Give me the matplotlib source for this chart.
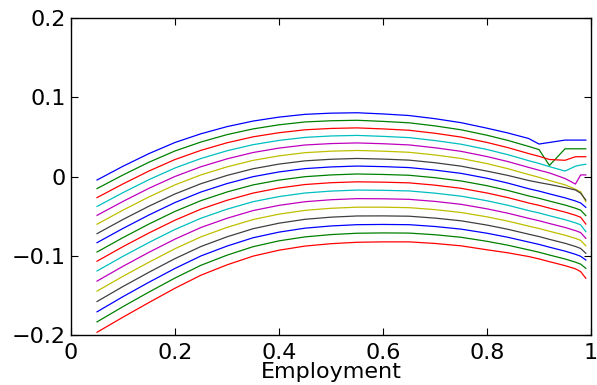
import matplotlib
matplotlib.use("Agg")
import matplotlib.pyplot as plt

plt.rcParams['font.family'] = ['DejaVu Sans']

# employment grid (x) shared by all curves
employment = [0.05, 0.10, 0.15, 0.20, 0.25, 0.30, 0.35, 0.40, 0.45, 0.50, 0.55, 0.60,
              0.65, 0.70, 0.75, 0.80, 0.84, 0.88, 0.90, 0.92, 0.95, 0.97, 0.98, 0.99]

# curves, top to bottom
line_01 = [-0.0044, 0.0130, 0.0290, 0.0430, 0.0540, 0.0630, 0.0700, 0.0750, 0.0785, 0.0800, 0.0805, 0.0790,
           0.0770, 0.0730, 0.0680, 0.0610, 0.0550, 0.0480, 0.0410, 0.0430, 0.0460, 0.0460, 0.0460, 0.0460]
line_02 = [-0.0152, 0.0020, 0.0181, 0.0323, 0.0436, 0.0529, 0.0601, 0.0653, 0.0689, 0.0704, 0.0710, 0.0696,
           0.0678, 0.0639, 0.0590, 0.0521, 0.0456, 0.0380, 0.0340, 0.0140, 0.0350, 0.0350, 0.0350, 0.0350]
line_03 = [-0.0266, -0.0093, 0.0070, 0.0215, 0.0331, 0.0426, 0.0501, 0.0553, 0.0590, 0.0607, 0.0614, 0.0601,
           0.0584, 0.0546, 0.0498, 0.0430, 0.0365, 0.0290, 0.0255, 0.0215, 0.0205, 0.0250, 0.0250, 0.0250]
line_04 = [-0.0378, -0.0203, -0.0039, 0.0108, 0.0228, 0.0325, 0.0402, 0.0456, 0.0494, 0.0512, 0.0519, 0.0507,
           0.0491, 0.0454, 0.0408, 0.0341, 0.0276, 0.0200, 0.0165, 0.0125, 0.0069, 0.0130, 0.0145, 0.0155]
line_05 = [-0.0490, -0.0314, -0.0148, 0.0001, 0.0124, 0.0223, 0.0303, 0.0359, 0.0398, 0.0416, 0.0424, 0.0414,
           0.0399, 0.0363, 0.0318, 0.0252, 0.0189, 0.0115, 0.0080, 0.0045, -0.0025, -0.0095, 0.0020, 0.0020]
line_06 = [-0.0602, -0.0424, -0.0257, -0.0105, 0.0021, 0.0122, 0.0204, 0.0261, 0.0301, 0.0320, 0.0329, 0.0320,
           0.0306, 0.0272, 0.0228, 0.0163, 0.0099, 0.0025, -0.0010, -0.0050, -0.0105, -0.0160, -0.0192, -0.0318]
line_07 = [-0.0721, -0.0542, -0.0374, -0.0220, -0.0090, 0.0014, 0.0098, 0.0157, 0.0198, 0.0218, 0.0228, 0.0220,
           0.0207, 0.0174, 0.0131, 0.0068, 0.0014, -0.0050, -0.0076, -0.0100, -0.0140, -0.0170, -0.0210, -0.0297]
line_08 = [-0.0835, -0.0655, -0.0485, -0.0328, -0.0195, -0.0089, -0.0002, 0.0058, 0.0100, 0.0121, 0.0132, 0.0125,
           0.0113, 0.0081, 0.0040, -0.0022, -0.0083, -0.0154, -0.0184, -0.0219, -0.0269, -0.0309, -0.0334, -0.0389]
line_09 = [-0.0953, -0.0771, -0.0599, -0.0440, -0.0304, -0.0195, -0.0106, -0.0045, -0.0002, 0.0020, 0.0032, 0.0026,
           0.0016, -0.0015, -0.0056, -0.0116, -0.0176, -0.0245, -0.0275, -0.0310, -0.0360, -0.0400, -0.0425, -0.0494]
line_10 = [-0.1069, -0.0885, -0.0712, -0.0551, -0.0411, -0.0300, -0.0209, -0.0145, -0.0101, -0.0078, -0.0067, -0.0071,
           -0.0080, -0.0109, -0.0149, -0.0208, -0.0266, -0.0334, -0.0364, -0.0399, -0.0449, -0.0489, -0.0514, -0.0600]
line_11 = [-0.1192, -0.1007, -0.0832, -0.0668, -0.0526, -0.0412, -0.0318, -0.0253, -0.0208, -0.0184, -0.0171, -0.0174,
           -0.0182, -0.0210, -0.0248, -0.0306, -0.0363, -0.0430, -0.0460, -0.0495, -0.0545, -0.0585, -0.0610, -0.0696]
line_12 = [-0.1320, -0.1133, -0.0956, -0.0790, -0.0643, -0.0527, -0.0430, -0.0364, -0.0318, -0.0293, -0.0279, -0.0281,
           -0.0288, -0.0314, -0.0351, -0.0408, -0.0463, -0.0528, -0.0558, -0.0593, -0.0643, -0.0683, -0.0708, -0.0780]
line_13 = [-0.1447, -0.1259, -0.1081, -0.0911, -0.0761, -0.0642, -0.0543, -0.0475, -0.0427, -0.0401, -0.0387, -0.0387,
           -0.0393, -0.0418, -0.0454, -0.0509, -0.0563, -0.0626, -0.0656, -0.0691, -0.0741, -0.0781, -0.0806, -0.0874]
line_14 = [-0.1578, -0.1388, -0.1208, -0.1036, -0.0883, -0.0761, -0.0659, -0.0589, -0.0540, -0.0513, -0.0498, -0.0497,
           -0.0501, -0.0525, -0.0559, -0.0613, -0.0666, -0.0728, -0.0758, -0.0793, -0.0843, -0.0883, -0.0908, -0.0969]
line_15 = [-0.1708, -0.1516, -0.1334, -0.1160, -0.1002, -0.0878, -0.0773, -0.0702, -0.0652, -0.0624, -0.0608, -0.0605,
           -0.0608, -0.0631, -0.0664, -0.0716, -0.0767, -0.0827, -0.0857, -0.0892, -0.0942, -0.0982, -0.1007, -0.1054]
line_16 = [-0.1835, -0.1642, -0.1458, -0.1281, -0.1120, -0.0993, -0.0886, -0.0812, -0.0762, -0.0733, -0.0716, -0.0712,
           -0.0714, -0.0735, -0.0767, -0.0818, -0.0867, -0.0926, -0.0956, -0.0991, -0.1041, -0.1081, -0.1106, -0.1159]
line_17 = [-0.1966, -0.1775, -0.1590, -0.1410, -0.1245, -0.1115, -0.1005, -0.0930, -0.0878, -0.0848, -0.0830, -0.0825,
           -0.0825, -0.0845, -0.0875, -0.0925, -0.0963, -0.1010, -0.1040, -0.1075, -0.1125, -0.1165, -0.1200, -0.1285]

curves = [line_01, line_02, line_03, line_04, line_05, line_06, line_07, line_08, line_09,
          line_10, line_11, line_12, line_13, line_14, line_15, line_16, line_17]

# old matlab colour order
matlab_colors = [(0, 0, 1), (0, 0.5, 0), (1, 0, 0), (0, 0.75, 0.75),
                 (0.75, 0, 0.75), (0.75, 0.75, 0), (0.25, 0.25, 0.25)]

xticks = [0, 0.2, 0.4, 0.6, 0.8, 1]
xticklabels = ['0', '0.2', '0.4', '0.6', '0.8', '1']
yticks = [-0.2, -0.1, 0, 0.1, 0.2]
yticklabels = ['\u22120.2', '\u22120.1', '0', '0.1', '0.2']

fig = plt.figure(figsize=(5.97, 3.85), dpi=100)
ax = fig.add_axes([0.119, 0.13, 0.871, 0.823])

for i, c in enumerate(curves):
    ax.plot(employment, c, color=matlab_colors[i % 7], linewidth=0.9)

ax.set_xlim(0, 1)
ax.set_ylim(-0.2, 0.2)
ax.set_xticks(xticks)
ax.set_xticklabels(xticklabels)
ax.set_yticks(yticks)
ax.set_yticklabels(yticklabels)
ax.tick_params(direction='in', length=5, width=0.8, labelsize=16,
               top=True, right=True)
ax.tick_params(axis='x', pad=6)
ax.tick_params(axis='y', pad=4)
for s in ax.spines.values():
    s.set_linewidth(1.0)

ax.set_xlabel('Employment', fontsize=16, labelpad=-1)

fig.savefig('out.png', dpi=100)
